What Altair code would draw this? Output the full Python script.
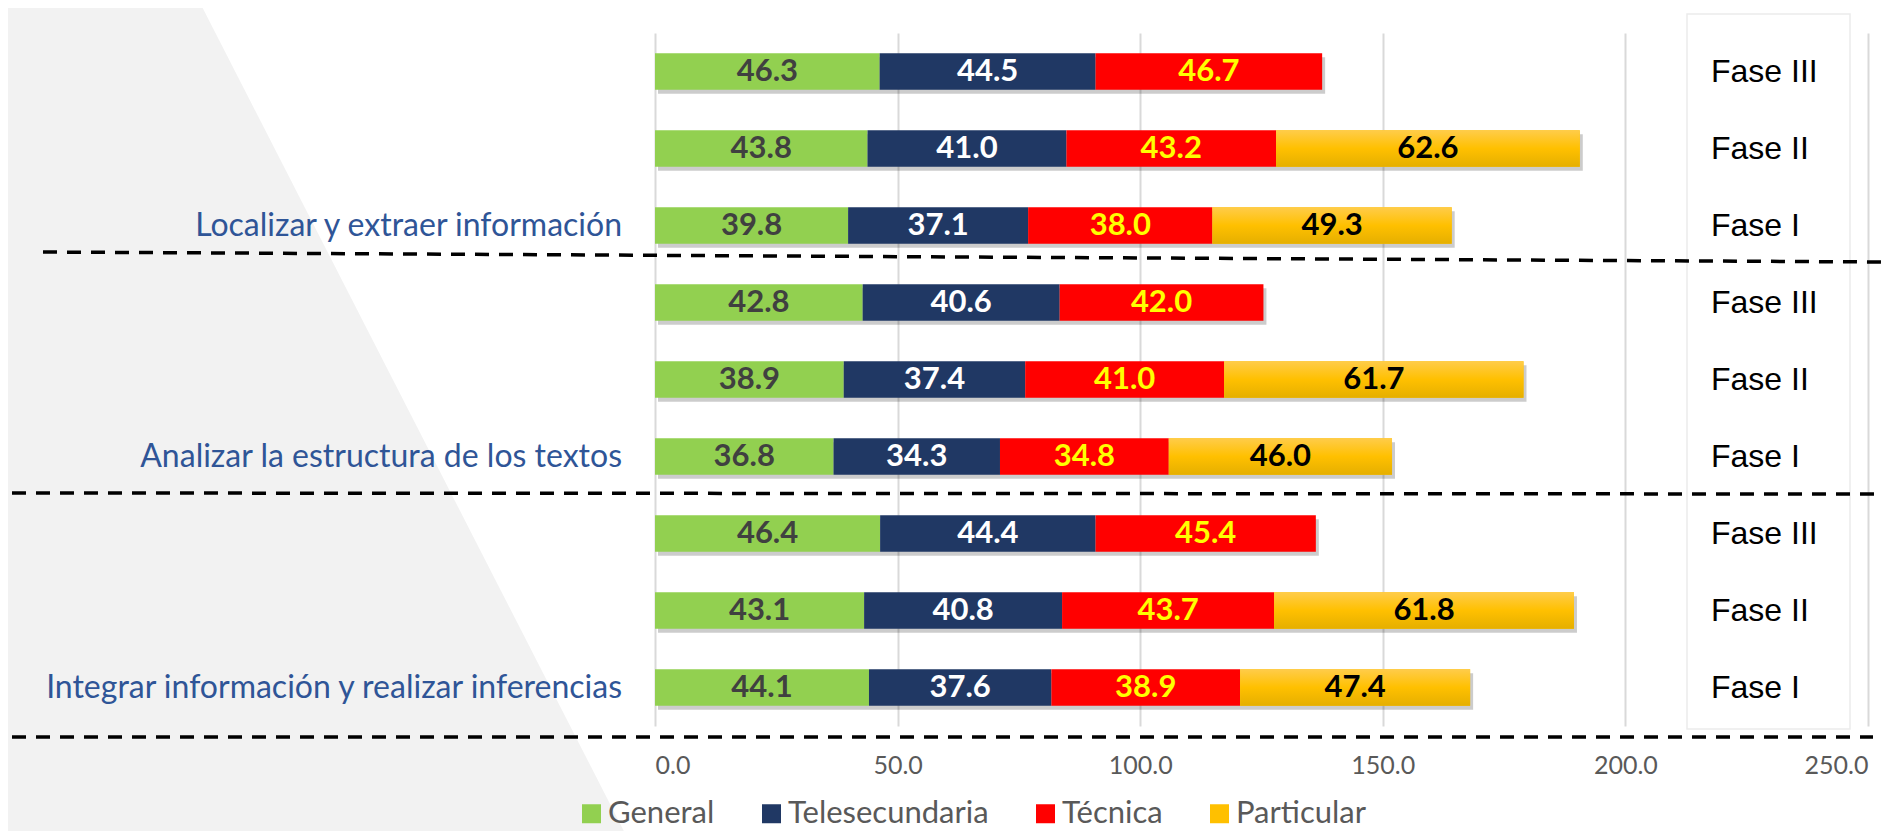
import altair as alt
import pandas as pd

# ---------------- data ----------------
groups = ["Localizar y extraer información",
          "Analizar la estructura de los textos",
          "Integrar información y realizar inferencias"]
fases = ["Fase III", "Fase II", "Fase I"]
series = ["General", "Telesecundaria", "Técnica", "Particular"]
general = [46.3, 43.8, 39.8, 42.8, 38.9, 36.8, 46.4, 43.1, 44.1]
telesecundaria = [44.5, 41.0, 37.1, 40.6, 37.4, 34.3, 44.4, 40.8, 37.6]
tecnica = [46.7, 43.2, 38.0, 42.0, 41.0, 34.8, 45.4, 43.7, 38.9]
particular = [None, 62.6, 49.3, None, 61.7, 46.0, None, 61.8, 47.4]
x_ticks = [0, 50, 100, 150, 200, 250]

colors = ["#92D050", "#203864", "#FF0000", "#FFC000"]
label_colors = ["#404040", "#FFFFFF", "#FFFF00", "#000000"]

# ---------------- tables ----------------
row_keys = [f"{g}|{f}" for g in groups for f in fases]
row_fase = [f for g in groups for f in fases]

recs = []
for k, (s, vals) in enumerate(zip(series, [general, telesecundaria, tecnica, particular])):
    for r, v in zip(row_keys, vals):
        if v is not None:
            recs.append({"row": r, "serie": s, "value": v, "k": k})
long_df = pd.DataFrame(recs)
tot_df = long_df.groupby("row", as_index=False)["value"].sum().rename(columns={"value": "total"})
fase_df = pd.DataFrame({"row": row_keys, "fase": row_fase})
cat_df = pd.DataFrame({"row": [f"{g}|Fase I" for g in groups], "cat": groups})

# ---------------- layout (pixels) ----------------
W, H = 1213, 693
PAD = {"left": 647, "top": 25, "right": 25, "bottom": 105}

xscale = alt.Scale(domain=[0, 250], nice=False, zero=True)
xaxis = alt.Axis(values=x_ticks, format=".1f", grid=True, gridColor="#D9D9D9", gridWidth=2,
                 domain=False, ticks=False, tickSize=0, labelFont="Lato", labelFontSize=25,
                 labelColor="#595959", labelPadding=27, title=None)
Y = alt.Y("row:N", sort=row_keys, axis=None,
          scale=alt.Scale(paddingInner=0.526, paddingOuter=0.263))

# background slanted grey panel (decoration)
bg_df = pd.DataFrame({"py": [-40, 810], "px": [-460, -25], "px0": [-700, -700]})
bg = alt.Chart(bg_df).mark_area(orient="horizontal", color="#F2F2F2").encode(
    y=alt.Y("py:Q", scale=None, axis=None),
    x=alt.X("px:Q", scale=None, axis=None),
    x2="px0:Q",
)

one = pd.DataFrame({"d": [0]})
box = alt.Chart(one).mark_rect(fill="white", stroke="#EBEBEB", strokeWidth=1.5).encode(
    x=alt.value(1032), x2=alt.value(1195), y=alt.value(-19), y2=alt.value(696))

shadow = alt.Chart(tot_df).mark_bar(color="black", opacity=0.2, yOffset=4, xOffset=3).encode(
    x=alt.X("total:Q", scale=xscale, axis=xaxis), y=Y)

base = alt.Chart(long_df).transform_stack(
    stack="value", groupby=["row"], sort=[alt.SortField("k", order="ascending")], as_=["x0", "x1"]
).transform_calculate(mid="(datum.x0 + datum.x1) / 2")

legend = alt.Legend(title=None, orient="none", legendX=-79, legendY=765, direction="horizontal",
                    symbolType="square", symbolSize=361, symbolStrokeWidth=0, symbolOpacity=1,
                    labelFont="Lato", labelFontSize=31, labelColor="#595959", labelOffset=1,
                    labelLimit=0, columnPadding=41, padding=0)

bars = base.mark_bar().encode(
    x=alt.X("x0:Q", scale=xscale, axis=xaxis),
    x2="x1:Q",
    y=Y,
    color=alt.Color("serie:N", scale=alt.Scale(domain=series, range=colors), legend=legend),
)

gold = base.transform_filter(alt.datum.serie == "Particular").mark_bar(
    color=alt.Gradient(gradient="linear", x1=0, y1=0, x2=0, y2=1,
                       stops=[alt.GradientStop(offset=0, color="#FFCC4A"),
                              alt.GradientStop(offset=0.5, color="#FFC000"),
                              alt.GradientStop(offset=1, color="#E5AF00")])
).encode(x=alt.X("x0:Q", scale=xscale), x2="x1:Q", y=Y)

texts = []
for s, c in zip(series, label_colors):
    texts.append(
        base.transform_filter(alt.datum.serie == s).mark_text(
            font="Lato", fontWeight="bold", fontSize=31, color=c, baseline="middle", align="center"
        ).encode(x=alt.X("mid:Q", scale=xscale), y=Y, text=alt.Text("value:Q", format=".1f"))
    )

fase_txt = alt.Chart(fase_df).mark_text(font="Liberation Sans", fontSize=32, color="#000000",
                                        align="left", baseline="middle").encode(
    x=alt.value(1056), y=Y, text="fase:N")

cat_txt = alt.Chart(cat_df).mark_text(font="Lato", fontSize=32, color="#2F5597",
                                      align="right", baseline="middle").encode(
    x=alt.value(-33), y=Y, text="cat:N")

dash_lines = []
for (ax, ay, bx, by) in [(-612, 219, 1233, 229), (-643, 460, 1222, 461), (-643, 704, 1218, 704)]:
    dash_lines.append(
        alt.Chart(one).mark_rule(color="black", strokeWidth=3.5, strokeDash=[14, 10]).encode(
            x=alt.value(ax), x2=alt.value(bx), y=alt.value(ay), y2=alt.value(by))
    )

chart = alt.layer(bg, box, shadow, bars, gold, *texts, fase_txt, cat_txt, *dash_lines).properties(
    width=W, height=H, padding=PAD, autosize=alt.AutoSizeParams(type="none"),
    background="white",
).configure_view(strokeWidth=0)

chart.save("out.html", embed_options={"renderer": "svg", "actions": False})
